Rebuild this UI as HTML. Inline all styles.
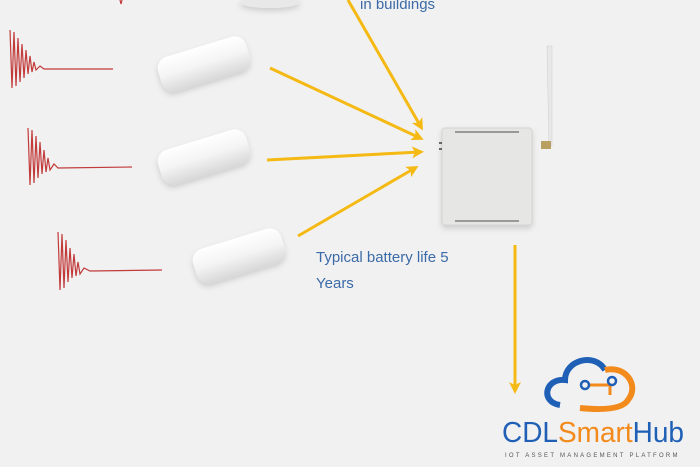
<!DOCTYPE html>
<html><head><style>
html,body{margin:0;padding:0;background:#f1f1f1;}
svg{display:block}
text{font-family:"Liberation Sans",sans-serif}
</style></head><body>
<svg width="700" height="467" viewBox="0 0 700 467" xmlns="http://www.w3.org/2000/svg">
<defs>
<linearGradient id="sg" x1="0" y1="0" x2="0" y2="1">
<stop offset="0" stop-color="#ffffff"/><stop offset="0.5" stop-color="#f4f4f4"/><stop offset="1" stop-color="#d8d8d8"/></linearGradient>
<marker id="ah" markerWidth="12" markerHeight="12" refX="8" refY="6" orient="auto" markerUnits="userSpaceOnUse">
<path d="M0,0 L12,6 L0,12 L3,6 Z" fill="#f5b914"/></marker>
<filter id="sh" x="-20%" y="-20%" width="140%" height="160%"><feDropShadow dx="0" dy="3" stdDeviation="3" flood-color="#000" flood-opacity=".15"/></filter>
</defs>
<rect width="700" height="467" fill="#f1f1f1"/>

<g stroke="#c23a3a" stroke-width="1.2" fill="none">
<path d="M120,0 L121,4 L122,0"/>
<path d="M10,30 L12,88 L14,32 L16,86 L18,38 L20,82 L22,44 L24,78 L26,50 L28,74 L30,56 L32,72 L34,62 L36,70 L40,66 L44,69 L50,69 L113,69"/>
<path d="M28,128 L30,185 L32,130 L34,183 L36,136 L38,178 L40,142 L42,174 L44,150 L46,172 L48,158 L50,170 L54,164 L58,168 L132,167"/>
<path d="M58,232 L60,290 L62,234 L64,288 L66,240 L68,282 L70,248 L72,278 L74,254 L76,276 L78,262 L80,274 L84,268 L90,271 L162,270"/>
</g>

<g filter="url(#sh)">
<ellipse cx="270" cy="2" rx="30" ry="6" fill="#e8e8e8"/>
<g transform="translate(204,64) rotate(-17)"><rect x="-46" y="-18" width="92" height="36" rx="12" fill="url(#sg)"/></g>
<g transform="translate(204,157) rotate(-17)"><rect x="-46" y="-18" width="92" height="36" rx="12" fill="url(#sg)"/></g>
<g transform="translate(239,256) rotate(-17)"><rect x="-46" y="-18" width="92" height="36" rx="12" fill="url(#sg)"/></g>
</g>

<g stroke="#f5b914" stroke-width="3" fill="none" marker-end="url(#ah)">
<line x1="348" y1="0" x2="421" y2="127"/>
<line x1="270" y1="68" x2="420" y2="138"/>
<line x1="267" y1="160" x2="420" y2="152"/>
<line x1="298" y1="236" x2="415" y2="168"/>
<line x1="515" y1="245" x2="515" y2="390"/>
</g>

<path d="M549,146 L547,46 L552,46 L552,146 Z" fill="#e8e8e8" stroke="#ccc" stroke-width=".5"/>
<rect x="541" y="141" width="10" height="8" fill="#b9a060"/>
<rect x="442" y="128" width="90" height="97" rx="3" fill="#e6e6e4" stroke="#d4d4d2" filter="url(#sh)"/>
<g fill="#999"><rect x="455" y="131" width="64" height="2"/><rect x="455" y="220" width="64" height="2"/></g>
<rect x="439" y="142" width="3" height="2" fill="#666"/><rect x="439" y="148" width="3" height="2" fill="#666"/>

<text x="360" y="9" font-size="15" fill="#3b6aa8">in buildings</text>
<text x="316" y="262" font-size="15" fill="#3b6aa8">Typical battery life 5</text>
<text x="316" y="288" font-size="15" fill="#3b6aa8">Years</text>

<path d="M560,405 C540,402 545,378 565,380 C565,360 595,352 605,370" fill="none" stroke="#1f5fb5" stroke-width="6"/>
<path d="M605,370 C625,365 640,385 628,400 C622,410 600,410 580,408" fill="none" stroke="#f28a1c" stroke-width="6"/>
<path d="M588,385 L610,385 L610,395" fill="none" stroke="#f28a1c" stroke-width="3"/>
<circle cx="585" cy="385" r="4" fill="none" stroke="#1f5fb5" stroke-width="2.5"/>
<circle cx="612" cy="381" r="4" fill="none" stroke="#1f5fb5" stroke-width="2.5"/>
<text x="502" y="442" font-size="29" fill="#1f5fb5" textLength="182" lengthAdjust="spacingAndGlyphs">CDL<tspan fill="#f28a1c">Smart</tspan>Hub</text>
<text x="505" y="457" font-size="6" fill="#555" letter-spacing="2.5" textLength="175" lengthAdjust="spacing">IOT ASSET MANAGEMENT PLATFORM</text>
</svg>
</body></html>
